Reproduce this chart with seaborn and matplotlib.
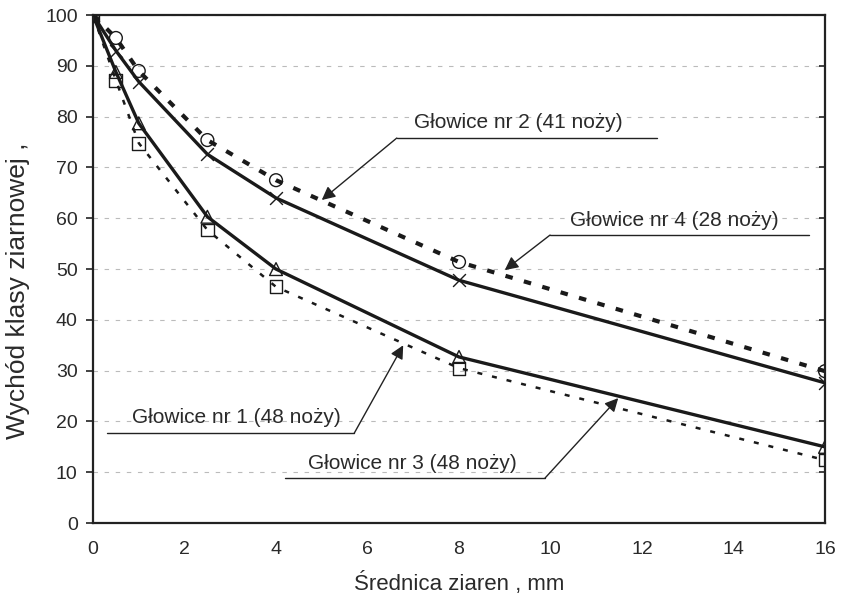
import matplotlib
matplotlib.use("Agg")
import matplotlib.pyplot as plt
import seaborn as sns
import pandas as pd

# Data
srednica = [0, 0.5, 1, 2.5, 4, 8, 16]
glowica1 = [100, 88.8, 78.7, 60.3, 50.0, 32.7, 15.0]   # triangles, solid
glowica2 = [100, 93.0, 86.9, 72.6, 64.0, 47.8, 27.6]   # x, solid
glowica3 = [100, 87.2, 74.8, 57.7, 46.5, 30.5, 12.4]   # squares, thin dashed
glowica4 = [100, 95.5, 89.0, 75.4, 67.5, 51.4, 29.9]   # circles, thick dashed
labels = ["Głowice nr 1 (48 noży)", "Głowice nr 2 (41 noży)",
          "Głowice nr 3 (48 noży)", "Głowice nr 4 (28 noży)"]
yticks = [0, 10, 20, 30, 40, 50, 60, 70, 80, 90, 100]
xticks = [0, 2, 4, 6, 8, 10, 12, 14, 16]

sns.set_theme(style="white")
plt.rcParams['font.family'] = ['Liberation Sans', 'DejaVu Sans']

fig = plt.figure(figsize=(8.41, 6.04), dpi=100)
ax = fig.add_axes([0.1106, 0.134, 0.8704, 0.841])

series = [glowica1, glowica2, glowica3, glowica4]
markers = ["^", "x", "s", "o"]
styles = [dict(lw=2.4, ls="-"),
          dict(lw=2.4, ls="-"),
          dict(lw=1.8, ls=(0, (2.0, 4.0))),
          dict(lw=3.0, ls=(0, (1.8, 2.8)))]

for vals, lab, st in zip(series, labels, styles):
    df = pd.DataFrame({"x": srednica, "y": vals})
    sns.lineplot(data=df, x="x", y="y", ax=ax, color="#1a1a1a",
                 linewidth=st["lw"], linestyle=st["ls"], legend=False)
for vals, mk in zip(series, markers):
    df = pd.DataFrame({"x": srednica, "y": vals})
    sns.scatterplot(data=df, x="x", y="y", ax=ax, marker=mk, s=85,
                    facecolor="none" if mk != "x" else "#1a1a1a",
                    edgecolor="#1a1a1a", linewidth=1.0, legend=False,
                    zorder=5)

ax.set_xlim(0, 16)
ax.set_ylim(0, 100)
ax.set_xticks(xticks)
ax.set_yticks(yticks)
ax.set_xticklabels([str(t) for t in xticks], fontsize=14, color="#2a2a2a")
ax.set_yticklabels([str(t) for t in yticks], fontsize=14, color="#2a2a2a")
ax.yaxis.grid(True, color="#bbbbbb", linestyle=(0, (4, 6)), linewidth=0.8)
ax.xaxis.grid(False)
for s in ax.spines.values():
    s.set_color("#222222")
    s.set_linewidth(1.6)
    s.set_visible(True)
ax.tick_params(axis="x", direction="out", length=6, width=1.2, color="#222222", pad=7)
ax.tick_params(axis="y", which="both", left=True, right=True, direction="out",
               length=5, width=1.2, color="#222222", pad=6)
ax.tick_params(axis="y", right=True, labelright=False)
for t in ax.yaxis.get_major_ticks():
    t.tick2line.set_marker(matplotlib.lines.TICKLEFT)
    t.tick2line.set_markersize(4)

ax.set_xlabel("Średnica ziaren , mm", fontsize=16, color="#2a2a2a")
ax.set_ylabel("Wychód klasy ziarnowej ,", fontsize=19, color="#2a2a2a")
ax.xaxis.label.set_va("center")
ax.yaxis.label.set_va("center")
ax.xaxis.set_label_coords(0.5, -0.118)
ax.yaxis.set_label_coords(-0.102, 0.457)

# Annotations
ann = [
    (labels[0], 0.85, 20.7, 0.31, 5.71, 17.7, 6.78, 35.0, "right"),
    (labels[1], 7.02, 78.9, 6.64, 12.33, 75.8, 5.0, 63.6, "left"),
    (labels[2], 4.70, 11.8, 4.20, 9.88, 8.86, 11.48, 24.6, "right"),
    (labels[3], 10.43, 59.6, 9.99, 15.65, 56.7, 9.0, 49.8, "left"),
]
for txt, tx, ty, x0, x1, uy, px, py, side in ann:
    ax.text(tx, ty, txt, fontsize=15, color="#2a2a2a", va="center", ha="left")
    ax.plot([x0, x1], [uy, uy], color="#222222", lw=1.0)
    sx = x1 if side == "right" else x0
    ax.annotate("", xy=(px, py), xytext=(sx, uy),
                arrowprops=dict(arrowstyle="-|>", color="#222222", lw=1.0,
                                mutation_scale=20, shrinkA=0, shrinkB=0))

fig.savefig("out.png", dpi=100)
